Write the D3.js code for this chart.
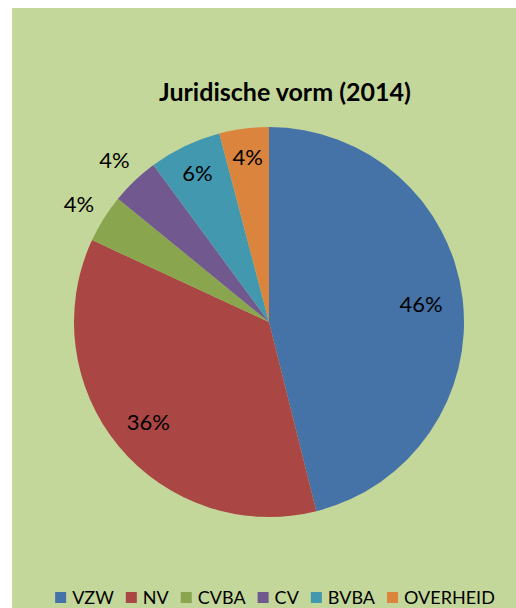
<!DOCTYPE html>
<html>
<head>
<meta charset="utf-8">
<script src="https://cdn.jsdelivr.net/npm/d3@7"></script>
<style>
html,body{margin:0;padding:0;background:#ffffff;}
svg{display:block;}
</style>
</head>
<body>
<script>
const categories = ["VZW", "NV", "CVBA", "CV", "BVBA", "OVERHEID"];
const values = [46.1, 35.8, 4.0, 4.0, 6.0, 4.1];
const colors = ["#4572a7", "#aa4643", "#89a54e", "#71588f", "#4198af", "#db843d"];
const title = "Juridische vorm (2014)";
const outsideLabels = ["CVBA", "CV"];

const W = 516, H = 608;
const svg = d3.select("body").append("svg").attr("width", W).attr("height", H);

svg.append("rect").attr("x", 12).attr("y", 8).attr("width", W - 12).attr("height", H - 8)
  .attr("fill", "#c4d79b");

const font = "Lato, 'Open Sans', sans-serif";

svg.append("text").attr("x", 285).attr("y", 101).attr("text-anchor", "middle")
  .attr("font-family", font).attr("font-weight", "bold").attr("font-size", 25)
  .attr("fill", "#000").text(title);

const cx = 269, cy = 322, R = 195;
const data = categories.map((c, i) => ({cat: c, value: values[i], color: colors[i]}));
const pie = d3.pie().value(d => d.value).sort(null);
const arcs = pie(data);
const arc = d3.arc().innerRadius(0).outerRadius(R);

const g = svg.append("g").attr("transform", `translate(${cx},${cy})`);
g.selectAll("path").data(arcs).enter().append("path")
  .attr("d", arc).attr("fill", d => d.data.color);

const total = d3.sum(values);
function labelPos(d) {
  const frac = d.data.value / total;
  const f = outsideLabels.includes(d.data.cat) ? 1.15 : (0.86 - 0.16 * frac);
  const a = (d.startAngle + d.endAngle) / 2;
  return [Math.sin(a) * R * f, -Math.cos(a) * R * f];
}
g.selectAll("text.lbl").data(arcs).enter().append("text")
  .attr("class", "lbl")
  .attr("transform", d => `translate(${labelPos(d)})`)
  .attr("text-anchor", "middle").attr("dominant-baseline", "central")
  .attr("font-family", font).attr("font-size", 22).attr("fill", "#000")
  .text(d => Math.round(d.data.value / total * 100) + "%");

// legend
const lg = svg.append("g");
const sq = 11, gapT = 6, gapItem = 12, lfs = 18, baseY = 604;
let x = 0;
data.forEach(d => {
  const it = lg.append("g");
  it.append("rect").attr("x", x).attr("y", baseY - 12).attr("width", sq).attr("height", sq).attr("fill", d.color);
  const t = it.append("text").attr("x", x + sq + gapT).attr("y", baseY)
    .attr("font-family", font).attr("font-size", lfs).attr("fill", "#000").text(d.cat);
  x += sq + gapT + t.node().getComputedTextLength() + gapItem;
});
const totalW = x - gapItem;
lg.attr("transform", `translate(${(59 + 491) / 2 - totalW / 2},0)`);
</script>
</body>
</html>
